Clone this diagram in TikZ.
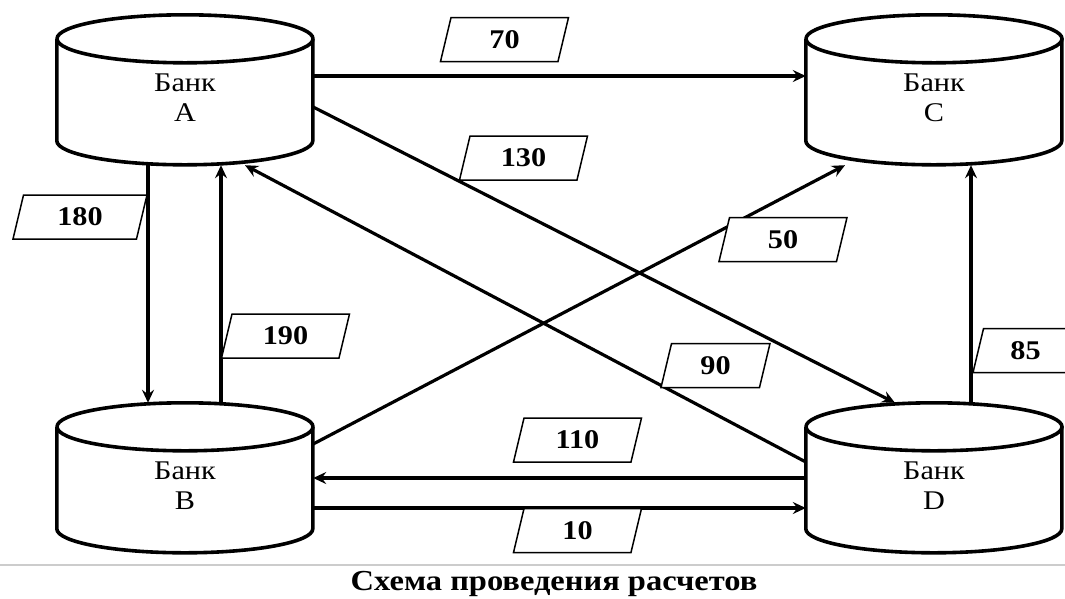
\documentclass[tikz,border=0pt]{standalone}
\usepackage{fontspec}
\setmainfont{Liberation Serif}[FakeStretch=1.12]
\usetikzlibrary{arrows.meta,shapes.geometric}

\tikzset{
  bank/.style={shape=rectangle,minimum width=256pt,minimum height=150pt,inner sep=0pt},
  banktext/.style={align=center,yshift=-8pt,font=\fontsize{27}{30}\selectfont},
  drum/.style={draw=black,line width=3.6pt,line join=round},
  sum/.style={shape=trapezium,trapezium left angle=60,trapezium right angle=120,trapezium stretches body,
    draw=black,fill=white,line width=1.5pt,minimum width=128pt,minimum height=44pt,inner sep=0pt,
    font=\fontsize{27}{30}\selectfont\bfseries},
  flow/.style={line width=3.2pt,-{Stealth[length=13pt,width=12pt,inset=4.5pt]}}
}
% outline of a bank drum round node #1
\newcommand{\drum}[1]{%
  \draw[drum] (#1.north west) ++(0,24) -- ++(0,102) arc[start angle=180,end angle=0,x radius=128,y radius=24] -- ++(0,-102);
  \draw[drum] (#1.north) ++(0,24) ellipse [x radius=128,y radius=24];
}

\begin{document}
\begin{tikzpicture}[x=1pt,y=-1pt]
  \useasboundingbox (0,0) rectangle (1065,598);

  \node[bank,label={[banktext]center:Банк\\A}] (bankA) at (185,90) {};
  \node[bank,label={[banktext]center:Банк\\C}] (bankC) at (934,90) {};
  \node[bank,label={[banktext]center:Банк\\B}] (bankB) at (185,478) {};
  \node[bank,label={[banktext]center:Банк\\D}] (bankD) at (934,478) {};
  \drum{bankA} \drum{bankC} \drum{bankB} \drum{bankD}

  \path [flow] ([yshift=14pt]bankA.east) edge ([yshift=14pt]bankC.west);
  \path [flow] ([yshift=-17pt]bankA.east) edge ([xshift=-39pt]bankD.north);
  \path [flow] ([yshift=16pt]bankD.west) edge ([xshift=60pt]bankA.south);
  \path [flow] ([yshift=34pt]bankB.east) edge ([xshift=-89pt]bankC.south);
  \path [flow] ([xshift=-37pt]bankA.south) edge ([xshift=-37pt]bankB.north);
  \path [flow] ([xshift=36pt]bankB.north) edge ([xshift=36pt]bankA.south);
  \path [flow] (bankD.west) edge (bankB.east);
  \path [flow] ([yshift=-30pt]bankB.east) edge ([yshift=-30pt]bankD.west);
  \path [flow] ([xshift=37pt]bankD.north) edge ([xshift=37pt]bankC.south);

  \node[sum] (sumAC) at (504.5,39.5) {70};
  \node[sum] (sumAD) at (523.5,158) {130};
  \node[sum,minimum width=134pt] (sumAB) at (80,217) {180};
  \node[sum] (sumBA) at (285.5,336) {190};
  \node[sum] (sumBC) at (783,239.5) {50};
  \node[sum,minimum width=109pt] (sumDA) at (715.5,365.5) {90};
  \node[sum] (sumDB) at (577.5,440) {110};
  \node[sum] (sumBD) at (577.5,530.5) {10};
  \node[sum,minimum width=105pt] (sumDC) at (1025.5,350.5) {85};

  \draw[black!20,line width=1.2pt] (0,565) -- (1065,565);
  \node[font=\fontsize{29}{30}\selectfont\bfseries,inner sep=0pt,anchor=base] (caption) at (554,590) {Схема проведения расчетов};
\end{tikzpicture}
\end{document}
